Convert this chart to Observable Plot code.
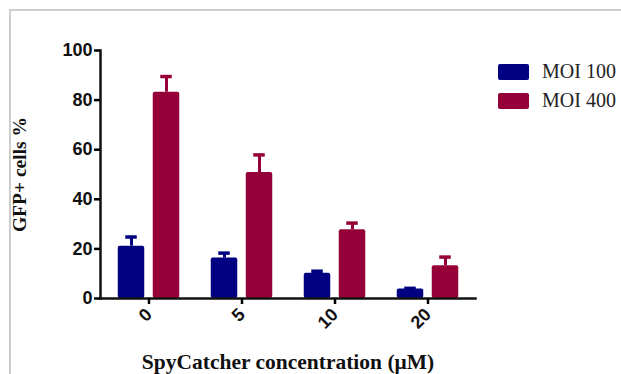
<!DOCTYPE html>
<html><head><meta charset="utf-8">
<script src="https://cdn.jsdelivr.net/npm/d3@7"></script>
<script src="https://cdn.jsdelivr.net/npm/@observablehq/plot@0.6"></script>
<style>
body{margin:0;background:#fff;}
#wrap{position:relative;width:621px;height:374px;overflow:hidden;background:#fff;}
#border{position:absolute;left:9px;top:9px;width:700px;height:500px;border-left:2px solid #cdcdcd;border-top:2px solid #cdcdcd;}
#chart{position:absolute;left:0;top:0;}
#legend{position:absolute;left:498px;top:57px;font-family:"Liberation Serif",serif;font-size:20px;color:#222;}
.item{display:flex;align-items:center;height:29px;}
.sw{width:31px;height:16px;border-radius:2px;margin-right:13px;}
g[aria-label="y-axis label"] text{font-family:"Liberation Serif",serif;font-weight:bold;font-size:19.5px;fill:#111;}
g[aria-label="x-axis label"] text{font-family:"Liberation Serif",serif;font-weight:bold;font-size:21.5px;fill:#111;}
g[aria-label="y-axis tick label"] text, g[aria-label="x-axis tick label"] text{fill:#111;}
</style></head>
<body>
<div id="wrap"><div id="border"></div><div id="chart"></div><div id="legend"></div></div>
<script>
const concentrations = ["0", "5", "10", "20"];
const series = ["MOI 100", "MOI 400"];
const colors = ["#000080", "#960039"];
const moi100 = [21.1, 16.3, 10.2, 3.8];
const moi100Err = [3.7, 2.0, 0.8, 0.3];
const moi400 = [83.2, 50.8, 27.7, 13.2];
const moi400Err = [6.3, 7.1, 2.7, 3.5];
const yTicks = [0, 20, 40, 60, 80, 100];

const rows = [];
concentrations.forEach((c, i) => {
  rows.push({c, s: series[0], v: moi100[i], e: moi100Err[i]});
  rows.push({c, s: series[1], v: moi400[i], e: moi400Err[i]});
});

const half = 46.75;
const offsets = [-17.5, 17.5];
const seriesMarks = series.flatMap((s, k) => {
  const data = rows.filter(d => d.s === s);
  return [
    Plot.ruleX(data, {x: "c", y1: "v", y2: d => d.v + d.e, dx: offsets[k], stroke: colors[k], strokeWidth: 3}),
    Plot.tickY(data, {x: "c", y: d => d.v + d.e, dx: offsets[k], insetLeft: half - 6, insetRight: half - 6, stroke: colors[k], strokeWidth: 3.5}),
    Plot.barY(data, {x: "c", y: "v", dx: offsets[k], insetLeft: half - 13.5, insetRight: half - 13.5, fill: colors[k], rx: 2})
  ];
});

const chart = Plot.plot({
  width: 621,
  height: 374,
  marginLeft: 100,
  marginRight: 146,
  marginTop: 50,
  marginBottom: 76,
  style: {fontFamily: "'Liberation Sans', Arial, sans-serif", background: "transparent"},
  x: {domain: concentrations, range: [101, 475], padding: 0},
  y: {domain: [0, 100]},
  marks: [
    ...seriesMarks,
    Plot.frame({anchor: "left", strokeWidth: 2.5, stroke: "#111"}),
    Plot.frame({anchor: "bottom", strokeWidth: 2.5, stroke: "#111"}),
    Plot.axisY({ticks: yTicks, tickSize: 6, tickPadding: 2, strokeWidth: 2.5, fontSize: 18, fontWeight: "bold",
      label: "GFP+ cells %", labelAnchor: "center", labelOffset: 88, labelArrow: "none"}),
    Plot.axisX({tickSize: 6, tickPadding: 7, tickRotate: -45, strokeWidth: 2.5, fontSize: 18, fontWeight: "bold",
      label: "SpyCatcher concentration (μM)", labelAnchor: "center", labelOffset: 70, labelArrow: "none"})
  ]
});
document.getElementById("chart").appendChild(chart);

const legend = document.getElementById("legend");
series.forEach((s, k) => {
  const item = document.createElement("div");
  item.className = "item";
  const sw = document.createElement("div");
  sw.className = "sw";
  sw.style.background = colors[k];
  const t = document.createElement("span");
  t.textContent = s;
  item.appendChild(sw);
  item.appendChild(t);
  legend.appendChild(item);
});
</script>
</body></html>
